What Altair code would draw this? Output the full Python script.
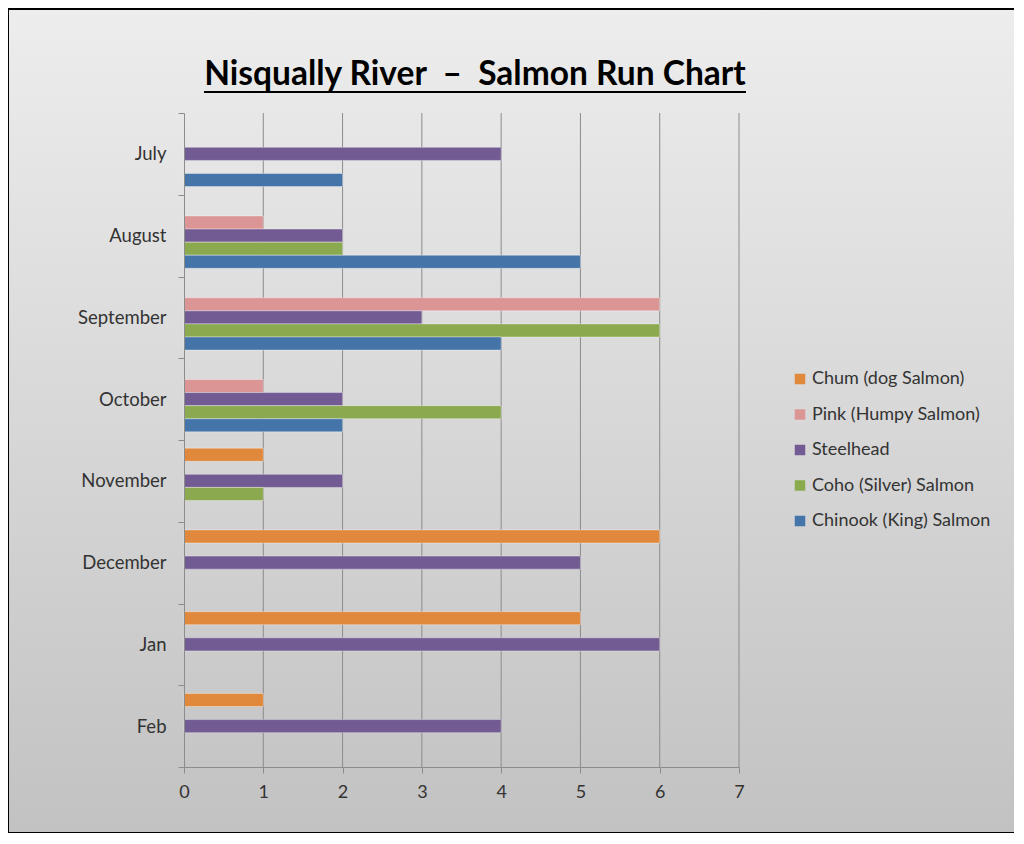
import altair as alt
import pandas as pd

months = ["July", "August", "September", "October", "November", "December", "Jan", "Feb"]
species = ["Chum (dog Salmon)", "Pink (Humpy Salmon)", "Steelhead",
           "Coho (Silver) Salmon", "Chinook (King) Salmon"]
colors = ["#E0883C", "#DB9595", "#725A92", "#8BA94F", "#4574A9"]

chum = [None, None, None, None, 1, 6, 5, 1]
pink = [None, 1, 6, 1, None, None, None, None]
steelhead = [4, 2, 3, 2, 2, 5, 6, 4]
coho = [None, 2, 6, 4, 1, None, None, None]
chinook = [2, 5, 4, 2, None, None, None, None]

x_ticks = [0, 1, 2, 3, 4, 5, 6, 7]
title_text = "Nisqually River\u00a0 \u2013\u00a0 Salmon Run Chart"

rows = []
for sp, vals in zip(species, [chum, pink, steelhead, coho, chinook]):
    for m, v in zip(months, vals):
        if v is not None:
            rows.append({"month": m, "species": sp, "value": v})
df = pd.DataFrame(rows)
grid_df = pd.DataFrame({"v": x_ticks[1:]})
one = pd.DataFrame({"a": [0]})

W, H = 555, 654
FONT = "Lato"

background = alt.Chart(one).mark_rect(
    fill=alt.LinearGradient(
        gradient="linear", x1=0, x2=0, y1=0, y2=1,
        stops=[alt.GradientStop(color="#EDEDED", offset=0),
               alt.GradientStop(color="#C2C2C2", offset=1)]),
    stroke="black", strokeWidth=2,
).encode(x=alt.value(-176), x2=alt.value(833), y=alt.value(-104), y2=alt.value(720))

xscale = alt.Scale(domain=[0, 7], nice=False, zero=True)
xaxis = alt.Axis(values=x_ticks, grid=False, format="d", zindex=1, labelFlush=False,
                 domainColor="#8C8C8C", tickColor="#8C8C8C", tickSize=6,
                 labelFont=FONT, labelFontSize=18, labelColor="#333333",
                 labelPadding=10)

grid = alt.Chart(grid_df).mark_rule(color="#8C8C8C", strokeWidth=1).encode(
    x=alt.X("v:Q", scale=xscale, title=None, axis=xaxis)
)

bars = alt.Chart(df).mark_bar(stroke="#FFFFFF", strokeWidth=0.8, strokeOpacity=0.45).encode(
    x=alt.X("value:Q", scale=xscale, title=None, axis=xaxis),
    y=alt.Y("month:N", sort=months, title=None,
            scale=alt.Scale(paddingInner=0, paddingOuter=0),
            axis=alt.Axis(tickBand="extent", zindex=1, domainColor="#8C8C8C",
                          tickColor="#8C8C8C", tickSize=6, labelFont=FONT,
                          labelFontSize=18.5, labelColor="#333333", labelPadding=12)),
    yOffset=alt.YOffset("species:N", sort=species,
                        scale=alt.Scale(domain=species, paddingInner=0, paddingOuter=0.625)),
    color=alt.Color("species:N", sort=species,
                    scale=alt.Scale(domain=species, range=colors),
                    legend=alt.Legend(title=None, orient="none", legendX=607, legendY=257,
                                      symbolType="square", symbolSize=110, symbolStrokeWidth=0,
                                      labelFont=FONT, labelFontSize=18, labelColor="#333333",
                                      labelOffset=3, rowPadding=17.5, padding=0, zindex=1,
                                      labelLimit=400)),
)

title = alt.Chart(one).mark_text(
    text=title_text, font=FONT, fontSize=33.5, fontWeight="bold", color="#000000",
    align="center", baseline="alphabetic",
).encode(x=alt.value(291), y=alt.value(-28))

underline = alt.Chart(one).mark_rule(color="#000000", strokeWidth=2).encode(
    x=alt.value(20), x2=alt.value(562), y=alt.value(-21)
)

chart = alt.layer(background, grid, bars, title, underline).properties(
    width=W, height=H,
    autosize=alt.AutoSizeParams(type="none"),
    padding={"left": 176, "top": 105, "right": 275, "bottom": 66},
).configure_view(stroke=None)

chart.save("out.html", embed_options={"renderer": "svg", "actions": False})
